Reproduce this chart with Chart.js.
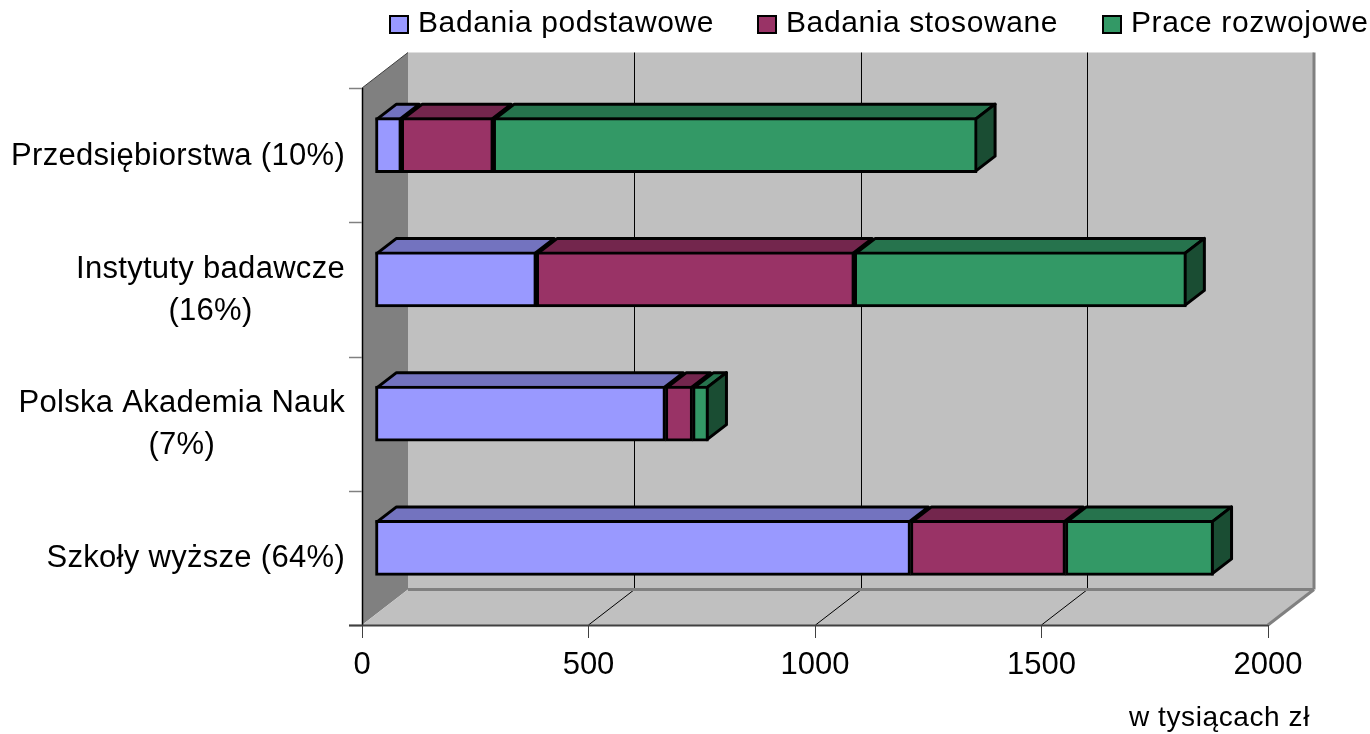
<!DOCTYPE html>
<html lang="pl">
<head>
<meta charset="utf-8">
<title>Nakłady na badania</title>
<style>
  html, body { margin: 0; padding: 0; background: #fff; }
  canvas { display: block; }
</style>
<script src="https://cdn.jsdelivr.net/npm/chart.js@4/dist/chart.umd.min.js"></script>
</head>
<body>
<canvas id="chart" width="1370" height="734"></canvas>
<script>
const categories = [
  ['Przedsiębiorstwa (10%)'],
  ['Instytuty badawcze', '(16%)'],
  ['Polska Akademia Nauk', '(7%)'],
  ['Szkoły wyższe (64%)']
];
const badaniaPodstawowe = [57, 355, 640, 1181];
const badaniaStosowane = [203, 702, 60, 342];
const praceRozwojowe = [1068, 733, 35, 327];
const xTicks = [0, 500, 1000, 1500, 2000];
const unitLabel = 'w tysiącach zł';

const FONT = '"Liberation Sans", Arial, sans-serif';
const WALL = { dx: 46, dy: -35.5 };  // przesuniecie tylnej sciany
const BAR = { dx: 13.5, dy: -10 };   // slupki stoja w srodku glebokosci
const DEPTH = { dx: 19.5, dy: -15 }; // glebokosc slupka

const colors = [
  { front: '#9999FF', top: '#7373BF', side: '#4D4D80' },
  { front: '#993366', top: '#73264D', side: '#4D1A33' },
  { front: '#339966', top: '#26734D', side: '#1A4D33' }
];

function poly(ctx, pts, fill, stroke, lw) {
  ctx.beginPath();
  pts.forEach((p, i) => i ? ctx.lineTo(p[0], p[1]) : ctx.moveTo(p[0], p[1]));
  ctx.closePath();
  if (fill) { ctx.fillStyle = fill; ctx.fill(); }
  if (stroke) { ctx.strokeStyle = stroke; ctx.lineWidth = lw; ctx.lineJoin = 'round'; ctx.stroke(); }
}

function line(ctx, x1, y1, x2, y2, color, lw) {
  ctx.beginPath();
  ctx.moveTo(x1, y1);
  ctx.lineTo(x2, y2);
  ctx.strokeStyle = color;
  ctx.lineWidth = lw;
  ctx.stroke();
}

const box3d = {
  id: 'box3d',
  beforeDatasetsDraw(chart) {
    const { ctx, chartArea: a, scales: { x } } = chart;
    const L = a.left, R = a.right, T = a.top, B = a.bottom;
    ctx.save();

    // sciana tylna, boczna i podloga
    poly(ctx, [[L + WALL.dx, T + WALL.dy], [R + WALL.dx, T + WALL.dy], [R + WALL.dx, B + WALL.dy], [L + WALL.dx, B + WALL.dy]], '#C0C0C0');
    poly(ctx, [[L, T], [L + WALL.dx, T + WALL.dy], [L + WALL.dx, B + WALL.dy], [L, B]], '#808080');
    poly(ctx, [[L, B], [L + WALL.dx, B + WALL.dy], [R + WALL.dx, B + WALL.dy], [R, B]], '#C0C0C0');

    // siatka
    xTicks.slice(1, -1).forEach(v => {
      const px = Math.floor(x.getPixelForValue(v)) + 0.5;
      line(ctx, px + WALL.dx, T + WALL.dy, px + WALL.dx, B + WALL.dy, '#000', 1);
      line(ctx, px, B, px + WALL.dx, B + WALL.dy, '#000', 1);
    });

    // krawedzie
    line(ctx, R + WALL.dx, T + WALL.dy, R + WALL.dx, B + WALL.dy, '#808080', 3);
    line(ctx, L + WALL.dx, B + WALL.dy, R + WALL.dx, B + WALL.dy, '#808080', 3);
    line(ctx, R, B, R + WALL.dx, B + WALL.dy, '#808080', 3);
    line(ctx, L, T, L + WALL.dx, T + WALL.dy, '#404040', 1);
    line(ctx, L + 0.5, T, L + 0.5, B, '#000', 1.5);

    // podzialki osi
    categories.concat([null]).forEach((c, i) => {
      const py = Math.round(T + (B - T) * i / categories.length) + 0.5;
      line(ctx, L - 13, py, L, py, '#808080', 1.5);
    });
    line(ctx, L - 13, B + 0.5, R, B + 0.5, '#404040', 2);
    xTicks.forEach(v => {
      const px = Math.floor(x.getPixelForValue(v)) + 0.5;
      line(ctx, px, B, px, B + 13, '#404040', 1);
    });

    // gora i bok slupkow
    const last = chart.data.datasets.length - 1;
    chart.data.datasets.forEach((ds, d) => {
      chart.getDatasetMeta(d).data.forEach(el => {
        const x0 = el.base + BAR.dx + 1.5, x1 = el.x + BAR.dx - 1.5;
        const y0 = el.y - el.height / 2 + BAR.dy + 1.5, y1 = el.y + el.height / 2 + BAR.dy - 1.5;
        poly(ctx, [[x0, y0], [x0 + DEPTH.dx, y0 + DEPTH.dy], [x1 + DEPTH.dx, y0 + DEPTH.dy], [x1, y0]], colors[d].top, '#000', 3);
        if (d === last) {
          poly(ctx, [[x1, y0], [x1 + DEPTH.dx, y0 + DEPTH.dy], [x1 + DEPTH.dx, y1 + DEPTH.dy], [x1, y1]], colors[d].side, '#000', 3);
        }
      });
    });
    ctx.restore();

    // przod slupkow rysuje sam Chart.js, tylko przesuniety
    ctx.save();
    ctx.translate(BAR.dx, BAR.dy);
  },
  afterDatasetsDraw(chart) {
    chart.ctx.restore();
  },
  afterDraw(chart) {
    const { ctx, scales: { y } } = chart;
    ctx.save();
    ctx.fillStyle = '#000';
    ctx.textBaseline = 'middle';

    // etykiety kategorii: prawa krawedz wspolna, linie wysrodkowane
    ctx.font = '31px ' + FONT;
    ctx.letterSpacing = '0.3px';
    ctx.textAlign = 'center';
    categories.forEach((lines, i) => {
      const cy = y.getPixelForValue(i) + 1;
      const w = Math.max(...lines.map(t => ctx.measureText(t).width));
      lines.forEach((t, n) => {
        ctx.fillText(t, 345 - w / 2, cy + (n - (lines.length - 1) / 2) * 42);
      });
    });

    // legenda
    ctx.font = '30px ' + FONT;
    ctx.letterSpacing = '0.6px';
    ctx.textAlign = 'left';
    const legendX = [390, 758, 1103];
    chart.data.datasets.forEach((ds, d) => {
      ctx.fillStyle = ds.backgroundColor;
      ctx.strokeStyle = '#000';
      ctx.lineWidth = 2;
      ctx.fillRect(legendX[d], 16, 18, 17);
      ctx.strokeRect(legendX[d], 16, 18, 17);
      ctx.fillStyle = '#000';
      ctx.fillText(ds.label, legendX[d] + 28, 24);
    });

    ctx.font = '28px ' + FONT;
    ctx.textAlign = 'right';
    ctx.fillText(unitLabel, 1310, 718);
    ctx.restore();
  }
};

function barDataset(label, data, c) {
  return {
    label, data,
    backgroundColor: c.front,
    borderColor: '#000',
    borderWidth: 3,
    barThickness: 55,
    borderSkipped: false,
    clip: false
  };
}

new Chart(document.getElementById('chart'), {
  type: 'bar',
  data: {
    labels: categories,
    datasets: [
      barDataset('Badania podstawowe', badaniaPodstawowe, colors[0]),
      barDataset('Badania stosowane', badaniaStosowane, colors[1]),
      barDataset('Prace rozwojowe', praceRozwojowe, colors[2])
    ]
  },
  options: {
    indexAxis: 'y',
    responsive: false,
    animation: false,
    layout: { padding: { left: 362, right: 102, top: 88, bottom: 39 } },
    plugins: { legend: { display: false }, title: { display: false }, tooltip: { enabled: false } },
    scales: {
      x: {
        stacked: true,
        min: 0,
        max: 2000,
        grid: { display: false },
        border: { display: false },
        afterFit(s) { s.height = 70; },
        afterBuildTicks(s) { s.ticks = xTicks.map(value => ({ value })); },
        ticks: {
          color: '#000',
          font: { family: FONT, size: 31 },
          padding: 14,
          maxRotation: 0,
          autoSkip: false,
          callback: v => String(v)
        }
      },
      y: {
        stacked: true,
        grid: { display: false },
        border: { display: false },
        ticks: { display: false },
        afterFit(s) { s.width = 0; }
      }
    }
  },
  plugins: [box3d]
});
</script>
</body>
</html>
